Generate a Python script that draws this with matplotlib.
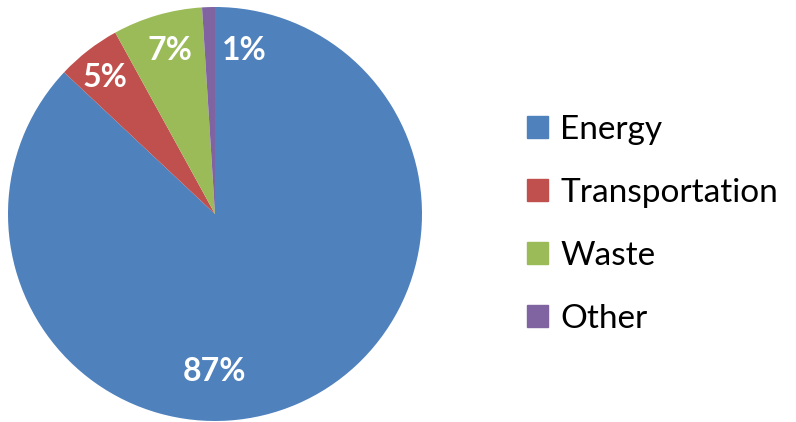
import matplotlib.pyplot as plt
from matplotlib.patches import Patch

plt.rcParams['font.family'] = ['Lato', 'DejaVu Sans']

categories = ['Energy', 'Transportation', 'Waste', 'Other']
values = [87, 5, 7, 1]
colors = ['#4F81BD', '#C0504D', '#9BBB59', '#8064A2']
# label positions (pie radius units), as placed in the original
label_pos = [(0.0, -0.76), (-0.53, 0.66), (-0.22, 0.79), (0.14, 0.79)]

fig = plt.figure(figsize=(7.96, 4.22), dpi=100)
ax = fig.add_axes([8/796, 1/422, 414/796, 414/422])

wedges, texts, autotexts = ax.pie(values, colors=colors, startangle=90,
                                  counterclock=False, autopct='%1.0f%%',
                                  textprops=dict(color='white', fontsize=23,
                                                 fontweight='bold'))
for t, p in zip(autotexts, label_pos):
    t.set_position(p)
ax.set_xlim(-1, 1)
ax.set_ylim(-1, 1)
ax.set_aspect('equal')

handles = [Patch(color=c, label=n) for c, n in zip(colors, categories)]
fig.legend(handles=handles, loc='center left', bbox_to_anchor=(497/796, 0.469),
           frameon=False, fontsize=24, handlelength=0.64, handleheight=0.64,
           handletextpad=0.36, labelspacing=0.99)

fig.savefig('out.png', dpi=100)
